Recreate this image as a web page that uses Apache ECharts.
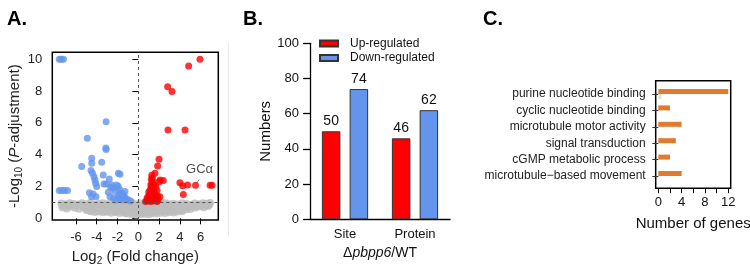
<!DOCTYPE html>
<html>
<head>
<meta charset="utf-8">
<script src="https://cdn.jsdelivr.net/npm/echarts@6/dist/echarts.min.js"></script>
<style>
  html, body { margin: 0; padding: 0; background: #fff; }
  #chart { width: 750px; height: 266px; }
</style>
</head>
<body>
<div id="chart"></div>
<script>
// panel A - volcano points [log2 fold change, -log10 p-adj]
var grayPts = [
  [-7.4,0.93],[-7.0,0.88],[-6.6,0.95],[-6.2,0.9],[-5.8,0.86],[-5.4,0.94],[-5.0,0.89],[-4.6,0.96],[-4.2,0.87],[-3.8,0.92],
  [-3.4,0.95],[-3.0,0.88],[-2.6,0.93],[-2.2,0.9],[-1.8,0.96],[-1.4,0.86],[-1.0,0.92],[-0.6,0.97],[-0.2,0.89],[0.2,0.94],
  [0.6,0.87],[1.0,0.95],[1.4,0.9],[1.8,0.84],[2.2,0.93],[2.6,0.97],[3.0,0.88],[3.4,0.92],[3.8,0.86],[4.2,0.95],
  [4.6,0.9],[5.0,0.84],[5.4,0.93],[5.8,0.88],[6.2,0.95],[6.6,0.91],[6.9,0.96],
  [-7.2,0.82],[-6.8,0.78],[-6.4,0.84],[-6.0,0.8],[-5.6,0.83],[-5.2,0.79],[-4.8,0.82],[-4.4,0.78],[-4.0,0.84],[-3.6,0.8],
  [-3.2,0.77],[-2.8,0.83],[-2.4,0.79],[-2.0,0.82],[-1.6,0.76],[-1.2,0.8],[-0.8,0.78],[-0.4,0.82],[0.0,0.77],[0.4,0.8],
  [0.8,0.76],[1.2,0.82],[1.6,0.78],[2.0,0.8],[2.4,0.77],[2.8,0.83],[3.2,0.79],[3.6,0.81],[4.0,0.77],[4.4,0.83],
  [4.8,0.8],[5.2,0.82],[5.6,0.78],[6.0,0.84],[6.4,0.8],[6.8,0.85],
  [-7.3,0.7],[-6.9,0.62],[-6.5,0.74],[-6.1,0.66],[-5.7,0.6],[-5.3,0.72],[-4.9,0.58],[-4.5,0.68],[-4.1,0.62],[-3.7,0.73],
  [-3.3,0.57],[-2.9,0.67],[-2.5,0.6],[-2.1,0.72],[-1.7,0.56],[-1.3,0.66],[-0.9,0.6],[-0.5,0.7],[-0.1,0.55],[0.3,0.68],
  [0.7,0.58],[1.1,0.71],[1.5,0.6],[1.9,0.67],[2.3,0.57],[2.7,0.7],[3.1,0.62],[3.5,0.73],[3.9,0.64],[4.3,0.7],
  [4.7,0.66],[5.1,0.74],[5.5,0.68],[5.9,0.75],[6.3,0.7],[6.7,0.78],
  [-5.0,0.52],[-4.6,0.48],[-4.2,0.53],[-3.8,0.47],[-3.4,0.5],[-3.0,0.46],[-2.6,0.51],[-2.2,0.45],[-1.8,0.49],[-1.4,0.44],
  [-1.0,0.47],[-0.6,0.42],[-0.2,0.45],[0.2,0.41],[0.6,0.46],[1.0,0.43],[1.4,0.48],[1.8,0.44],[2.2,0.5],[2.6,0.46],
  [3.0,0.51],[3.4,0.48],[3.8,0.53],[4.2,0.5],[4.6,0.55],[5.0,0.58],
  [-4.6,0.45],[-4.2,0.4],[-3.8,0.43],[-3.4,0.38],[-3.0,0.41],[-2.6,0.35],[-2.2,0.39],[-1.8,0.33],[-1.4,0.36],[-1.0,0.3],
  [-0.6,0.27],[-0.2,0.22],[0.2,0.25],[0.6,0.29],[1.0,0.26],[1.4,0.32],[1.8,0.3],[2.2,0.35],[2.6,0.33],[3.0,0.38],
  [3.4,0.36],[3.8,0.42],[4.2,0.45],
  [-0.4,0.3],[0.0,0.28],[0.4,0.33],[-1.2,0.34],[1.2,0.36]
]
var downPts = [
  [-7.6,10],[-7.4,10],[-7.2,10],
  [-7.6,1.75],[-7.35,1.75],[-7.1,1.75],[-6.8,1.75],
  [-3.1,6.08],[-4.9,5.03],[-3.12,4.42],[-3.1,4.32],[-5.44,3.25],[-4.48,3.77],[-4.48,3.46],[-3.52,3.52],
  [-4.55,3.0],[-4.4,2.83],[-4.26,2.62],[-4.17,2.41],[-4.1,2.2],[-4.0,2.0],
  [-3.37,2.72],[-2.79,2.47],[-3.3,2.15],[-3.07,2.15],[-1.92,2.83],[-1.76,2.77],[-2.56,2.09],
  [-2.66,1.95],[-2.88,1.64],[-4.7,1.6],[-4.33,1.53],[-4.07,1.36],[-4.5,1.36],
  [-2.08,2.1],[-1.92,2.0],[-2.4,1.89],[-2.24,1.68],[-1.76,1.78],[-1.6,1.57],[-1.44,1.47],[-1.28,1.32],
  [-1.12,1.2],[-0.96,1.15],[-1.92,1.36],[-1.7,1.2],[-2.4,1.26],[-2.72,1.36],[-2.15,1.15],[-1.44,1.15],
  [-0.74,1.09],[-1.83,1.53],[-1.28,1.68],[-1.5,1.26]
]
var upPts = [
  [5.93,10],[4.84,9.58],[2.82,8.28],[3.24,7.97],[2.85,5.56],[4.49,5.56],
  [1.99,3.71],[1.86,3.29],[1.6,2.83],[2.09,2.41],[2.4,2.37],[2.08,1.36],
  [4.0,2.24],[4.26,2.05],[4.74,2.1],[4.33,1.5],[6.9,2.08],[7.1,2.08],
  [0.7,1.05],[0.8,1.1],[0.9,1.15],[1.0,1.1],[1.1,1.2],[1.2,1.05],[1.3,1.15],[1.4,1.1],[1.5,1.2],[1.6,1.1],
  [1.7,1.3],[1.8,1.05],[1.9,1.15],[0.85,1.3],[1.0,1.4],[1.1,1.5],[1.2,1.35],[1.3,1.6],[1.4,1.45],[1.5,1.7],
  [1.6,1.55],[1.15,1.8],[1.25,1.9],[1.35,2.0],[1.45,1.85],[1.2,2.1],[1.3,2.2],[1.4,2.3],[1.25,2.45],[1.35,2.55],
  [1.3,2.7],[1.5,2.1],[1.7,2.0],[1.8,1.75],[1.0,1.65],[0.95,1.25],[2.0,2.3],[1.85,1.4]
]
var gcaPt = [5.5, 2.08]
var volXTicks = [-6, -4, -2, 0, 2, 4, 6]
var volYTicks = [0, 2, 4, 6, 8, 10]

// panel B
var groups = ['Site', 'Protein']
var upCounts = [50, 46]
var downCounts = [74, 62]

// panel C
var goTerms = ['purine nucleotide binding', 'cyclic nucleotide binding', 'microtubule motor activity',
  'signal transduction', 'cGMP metabolic process', 'microtubule\u2212based movement']
var goGenes = [12, 2, 4, 3, 2, 4]
var goOther = [0.5, 0, 0, 0, 0, 0]
var goTickVals = [0, 2, 4, 6, 8, 10, 12]
var goLabelVals = [0, 4, 8, 12]

var font = 'Liberation Sans, Arial, sans-serif'
var blue = '#6495ed'
var red = '#ff0000'

var chart = echarts.init(document.getElementById('chart'))

chart.setOption({
  animation: false,
  textStyle: { fontFamily: font },
  title: [
    { text: 'A.', left: 2, top: 4 },
    { text: 'B.', left: 238, top: 4 },
    { text: 'C.', left: 478, top: 4 }
  ].map(function (t) {
    t.textStyle = { fontFamily: 'Liberation Sans Narrow, Liberation Sans, sans-serif', fontSize: 20, fontWeight: 'bold', color: '#000' }
    return t
  }),
  graphic: [
    { type: 'line', shape: { x1: 228.5, y1: 42, x2: 228.5, y2: 237 }, style: { stroke: '#e8e8e8', lineWidth: 1 } }
  ],
  legend: {
    data: ['Up-regulated', 'Down-regulated'],
    orient: 'vertical',
    left: 319, top: 37.5, padding: 0,
    icon: 'rect',
    itemWidth: 18, itemHeight: 6, itemGap: 2.5,
    textStyle: { fontSize: 12, color: '#111', padding: [0, 0, 0, 7] }
  },
  grid: [
    { left: 52.3, top: 52.3, width: 166, height: 167.7, show: true, borderColor: '#000', borderWidth: 1.5, outerBoundsMode: 'none' },
    { left: 310, top: 43.3, width: 140, height: 176, outerBoundsMode: 'none' },
    { left: 655.7, top: 85.8, width: 75, height: 98.4, outerBoundsMode: 'none' },
    { left: 655.7, top: 80.7, width: 75, height: 107.6, show: true, borderColor: '#000', borderWidth: 1.5, outerBoundsMode: 'none' }
  ],
  xAxis: [
    {
      gridIndex: 0, type: 'value', min: -8.27, max: 7.69,
      splitLine: { show: false }, axisLine: { show: false },
      axisTick: { show: true, length: 6, customValues: volXTicks, lineStyle: { color: '#000' } },
      axisLabel: { customValues: volXTicks, fontSize: 13, color: '#222', margin: 11 },
      name: '{a|Log}{s|2}{a| (Fold change)}', nameLocation: 'middle', nameGap: 28,
      nameTextStyle: { rich: { a: { fontSize: 15, color: '#222' }, s: { fontSize: 10, color: '#222', padding: [8, 0, 0, 0] } } }
    },
    {
      gridIndex: 1, type: 'category', data: groups,
      axisLine: { lineStyle: { color: '#000', width: 1.3 } },
      axisTick: { show: false },
      axisLabel: { fontSize: 13, color: '#111', margin: 9 },
      name: '{a|\u0394}{i|pbpp6}{a|/WT}', nameLocation: 'middle', nameGap: 23,
      nameTextStyle: { rich: { a: { fontSize: 14, color: '#111' }, i: { fontSize: 14, color: '#111', fontStyle: 'italic' } } }
    },
    {
      gridIndex: 2, type: 'value', min: -0.45, max: 12.42, offset: 4,
      splitLine: { show: false }, axisLine: { show: false },
      axisTick: { show: true, length: 5, customValues: goTickVals, lineStyle: { color: '#000' } },
      axisLabel: { customValues: goLabelVals, fontSize: 13, color: '#111', margin: 8 },
      name: 'Number of genes', nameLocation: 'middle', nameGap: 28,
      nameTextStyle: { fontSize: 15, color: '#111' }
    },
    { gridIndex: 3, type: 'value', show: false, min: 0, max: 1 }
  ],
  yAxis: [
    {
      gridIndex: 0, type: 'value', min: -0.107, max: 10.44,
      splitLine: { show: false }, axisLine: { show: false },
      axisTick: { show: true, length: 6, customValues: volYTicks, lineStyle: { color: '#000' } },
      axisLabel: { customValues: volYTicks, fontSize: 13, color: '#222', margin: 10 },
      name: '{a|-Log}{s|10}{a| (}{i|P}{a|-adjustment)}', nameLocation: 'middle', nameGap: 27,
      nameTextStyle: { rich: {
        a: { fontSize: 15, color: '#222' },
        i: { fontSize: 15, color: '#222', fontStyle: 'italic' },
        s: { fontSize: 10, color: '#222', padding: [8, 0, 0, 0] }
      } }
    },
    {
      gridIndex: 1, type: 'value', min: 0, max: 100, interval: 20,
      splitLine: { show: false },
      axisLine: { show: true, lineStyle: { color: '#000', width: 1.3 } },
      axisTick: { show: true, length: 7, lineStyle: { color: '#000', width: 1.3 } },
      axisLabel: { fontSize: 13, color: '#111', margin: 11 },
      name: 'Numbers', nameLocation: 'middle', nameGap: 37,
      nameTextStyle: { fontSize: 15, color: '#111' }
    },
    {
      gridIndex: 2, type: 'category', data: goTerms, inverse: true,
      axisLine: { show: false },
      axisTick: { show: true, alignWithLabel: true, length: 6, lineStyle: { color: '#333' } },
      axisLabel: { fontSize: 12, color: '#222', margin: 10 }
    },
    { gridIndex: 3, type: 'value', show: false, min: 0, max: 1 }
  ],
  series: [
    {
      type: 'scatter', xAxisIndex: 0, yAxisIndex: 0, data: grayPts,
      symbolSize: 8, itemStyle: { color: '#bdbdbd' }, silent: true,
      markLine: {
        silent: true, symbol: 'none', label: { show: false },
        lineStyle: { color: '#555', type: [3, 3], width: 1 },
        data: [{ xAxis: 0 }, { yAxis: 1 }]
      }
    },
    {
      type: 'scatter', xAxisIndex: 0, yAxisIndex: 0, data: downPts,
      symbolSize: 7, itemStyle: { color: blue }
    },
    {
      type: 'scatter', xAxisIndex: 0, yAxisIndex: 0,
      data: upPts.concat([{
        value: gcaPt,
        label: { show: true, formatter: 'GC\u03b1', position: 'top', distance: 6, offset: [4, 0], fontSize: 13, color: '#222' }
      }]),
      symbolSize: 7, itemStyle: { color: red },
      markLine: {
        silent: true, symbol: 'none', label: { show: false },
        lineStyle: { color: '#666', type: 'solid', width: 0.8 },
        data: [[{ coord: [5.85, 2.45] }, { coord: [5.62, 2.22] }]]
      }
    },
    {
      name: 'Up-regulated', type: 'bar', xAxisIndex: 1, yAxisIndex: 1, data: upCounts,
      barWidth: 18.5, barGap: '50%',
      itemStyle: { color: red, borderColor: '#333', borderWidth: 1 },
      label: { show: true, position: 'top', distance: 3, fontSize: 14, color: '#111' }
    },
    {
      name: 'Down-regulated', type: 'bar', xAxisIndex: 1, yAxisIndex: 1, data: downCounts,
      barWidth: 18.5, barGap: '50%',
      itemStyle: { color: blue, borderColor: '#333', borderWidth: 1 },
      label: { show: true, position: 'top', distance: 3, fontSize: 14, color: '#111' }
    },
    {
      type: 'bar', xAxisIndex: 2, yAxisIndex: 2, data: goGenes,
      barWidth: 5, barGap: '0%', itemStyle: { color: '#e07a2f' }
    },
    {
      type: 'bar', xAxisIndex: 2, yAxisIndex: 2, data: goOther,
      barWidth: 5, barGap: '0%', itemStyle: { color: '#dde6c4' }
    }
  ]
})
</script>
</body>
</html>
